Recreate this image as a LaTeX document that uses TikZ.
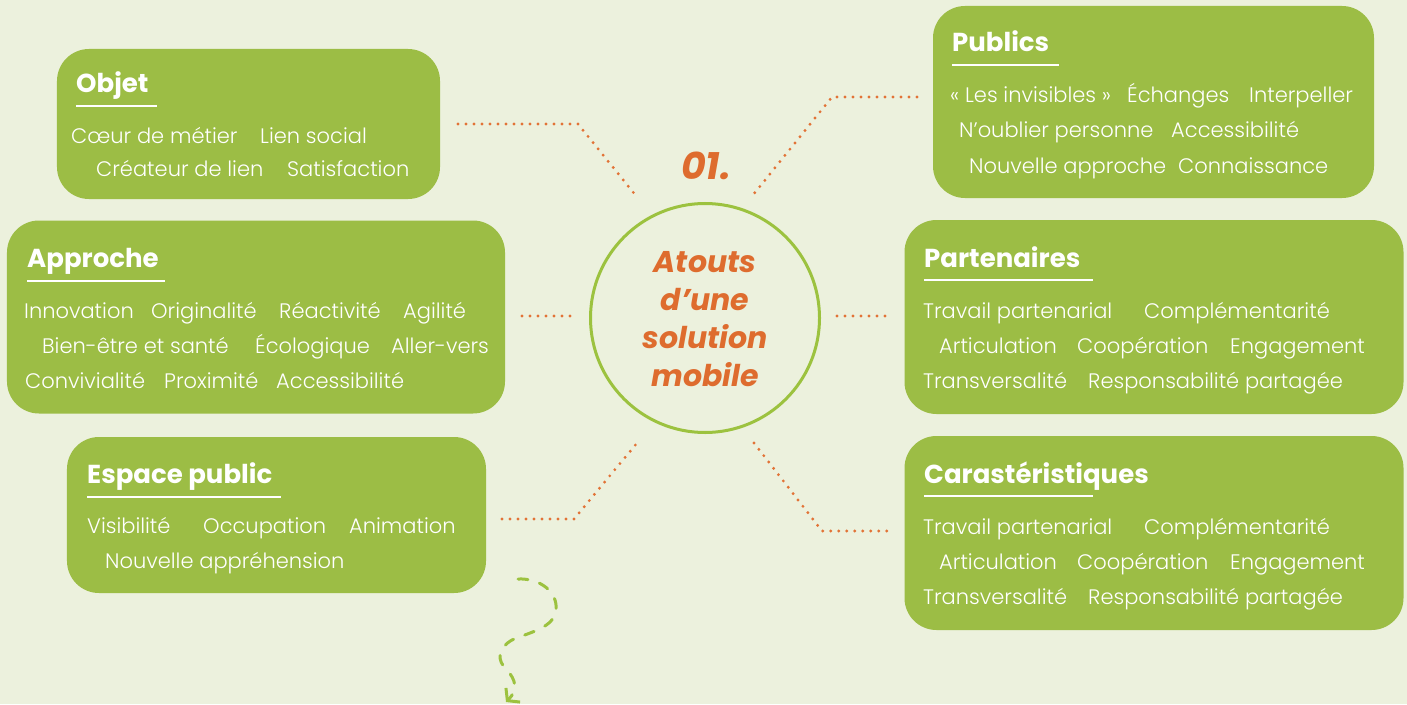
\documentclass[tikz,border=0pt]{standalone}
\usepackage{fontspec}
\setmainfont{Poppins}[UprightFont=* Light, BoldFont=* Bold, BoldItalicFont=* Bold Italic]
\usetikzlibrary{arrows.meta}
\definecolor{fond}{HTML}{ECF1DD}
\definecolor{vertbloc}{HTML}{9CBD45}
\definecolor{vertcercle}{HTML}{9CC23F}
\definecolor{orangetitre}{HTML}{DE6C2E}
\definecolor{orangepoint}{HTML}{E27336}
\tikzset{
  bloc/.style={rectangle, fill=vertbloc, rounded corners=32bp, inner sep=0pt},
  titre/.style={anchor=base west, inner sep=0pt, text=white, font=\fontsize{26bp}{30bp}\selectfont\bfseries},
  mot/.style={anchor=base west, inner sep=0pt, text=white, font=\fontsize{21bp}{25bp}\selectfont},
  souligne/.style={draw=white, line width=2bp},
  pointille/.style={draw=orangepoint, line width=3.2bp, line cap=round, dash pattern=on 0bp off 8bp},
  fleche/.style={draw=vertcercle, line width=3bp, line cap=round, dash pattern=on 10bp off 12bp, -{Straight Barb[length=8bp, width=20bp]}},
  accroche/.style={anchor=base, inner sep=0pt, text=orangetitre, font=\fontsize{30bp}{38bp}\selectfont\bfseries\itshape}
}

\begin{document}
\begin{tikzpicture}[x=1bp, y=-1bp]
  \useasboundingbox (0,0) rectangle (1407,704);
  \fill[fond] (0,0) rectangle (1407,704);

  % Blocs
  \node (objet) at (248.5,124) [bloc, minimum width=383bp, minimum height=150bp] {};
  \node (publics) at (1153.5,102) [bloc, minimum width=441bp, minimum height=192bp] {};
  \node (approche) at (256,317) [bloc, minimum width=498bp, minimum height=193bp] {};
  \node (partenaires) at (1154,317) [bloc, minimum width=499bp, minimum height=194bp] {};
  \node (espace) at (276.5,515) [bloc, minimum width=419bp, minimum height=156bp] {};
  \node (carast) at (1154,533) [bloc, minimum width=499bp, minimum height=194bp] {};

  % Centre
  \node (cercle) at (705,318) [circle, draw=vertcercle, line width=3bp, minimum size=229bp, inner sep=0pt] {};
  \node (numero) at (706,179) [accroche, font=\fontsize{38bp}{44bp}\selectfont\bfseries\itshape] {01.};
  \node (accroche1) at (705,272) [accroche] {Atouts};
  \node (accroche2) at (705,310) [accroche] {d’une};
  \node (accroche3) at (705,348) [accroche] {solution};
  \node (accroche4) at (705,386) [accroche] {mobile};

  % Objet
  \node (objetT) at (76,93) [titre] {Objet};
  \draw[souligne] (objetT.base west) ++(0,13) coordinate (objetS) -- ++(81,0);
  \node (objet1) at (71,143) [mot] {Cœur de métier};
  \node (objet2) at (260,143) [mot] {Lien social};
  \node (objet3) at (96,176) [mot] {Créateur de lien};
  \node (objet4) at (287,176) [mot] {Satisfaction};

  % Publics
  \node (publicsT) at (952,52) [titre] {Publics};
  \draw[souligne] (publicsT.base west) ++(0,13) coordinate (publicsS) -- ++(107,0);
  \node (publics1) at (950,103) [mot] {« Les invisibles »};
  \node (publics2) at (1127,103) [mot] {Échanges};
  \node (publics3) at (1249,103) [mot] {Interpeller};
  \node (publics4) at (959,138) [mot] {N’oublier personne};
  \node (publics5) at (1171,138) [mot] {Accessibilité};
  \node (publics6) at (969,173) [mot] {Nouvelle approche};
  \node (publics7) at (1178,173) [mot] {Connaissance};

  % Approche
  \node (approcheT) at (27,267) [titre] {Approche};
  \draw[souligne] (approcheT.base west) ++(0,14) coordinate (approcheS) -- ++(138,0);
  \node (approche1) at (24,318) [mot] {Innovation};
  \node (approche2) at (151,318) [mot] {Originalité};
  \node (approche3) at (279,318) [mot] {Réactivité};
  \node (approche4) at (403,318) [mot] {Agilité};
  \node (approche5) at (42,353) [mot] {Bien-être et santé};
  \node (approche6) at (255,353) [mot] {Écologique};
  \node (approche7) at (391,353) [mot] {Aller-vers};
  \node (approche8) at (25,388) [mot] {Convivialité};
  \node (approche9) at (164,388) [mot] {Proximité};
  \node (approche10) at (276,388) [mot] {Accessibilité};

  % Partenaires
  \node (partenairesT) at (924,267) [titre] {Partenaires};
  \draw[souligne] (partenairesT.base west) ++(0,13) coordinate (partenairesS) -- ++(169,0);
  \node (partenaires1) at (923,318) [mot] {Travail partenarial};
  \node (partenaires2) at (1144,318) [mot] {Complémentarité};
  \node (partenaires3) at (939,353) [mot] {Articulation};
  \node (partenaires4) at (1077,353) [mot] {Coopération};
  \node (partenaires5) at (1230,353) [mot] {Engagement};
  \node (partenaires6) at (923,388) [mot] {Transversalité};
  \node (partenaires7) at (1088,388) [mot] {Responsabilité partagée};

  % Espace public
  \node (espaceT) at (87,483) [titre] {Espace public};
  \draw[souligne] (espaceT.base west) ++(0,14) coordinate (espaceS) -- ++(194,0);
  \node (espace1) at (87,533) [mot] {Visibilité};
  \node (espace2) at (203,533) [mot] {Occupation};
  \node (espace3) at (349,533) [mot] {Animation};
  \node (espace4) at (105,568) [mot] {Nouvelle appréhension};

  % Carasteristiques
  \node (carastT) at (924,483) [titre] {Carastéristiques};
  \draw[souligne] (carastT.base west) ++(0,13) coordinate (carastS) -- ++(169,0);
  \node (carast1) at (923,534) [mot] {Travail partenarial};
  \node (carast2) at (1144,534) [mot] {Complémentarité};
  \node (carast3) at (939,569) [mot] {Articulation};
  \node (carast4) at (1077,569) [mot] {Coopération};
  \node (carast5) at (1230,569) [mot] {Engagement};
  \node (carast6) at (923,604) [mot] {Transversalité};
  \node (carast7) at (1088,604) [mot] {Responsabilité partagée};

  % Liens pointilles
  \coordinate (lienObjetA) at (458,124);
  \coordinate (lienObjetB) at (578,124);
  \coordinate (lienObjetC) at (637,197);
  \coordinate (lienPublicsA) at (917,97);
  \coordinate (lienPublicsB) at (832,97);
  \coordinate (lienPublicsC) at (753,195);
  \coordinate (lienApprocheA) at (522,316);
  \coordinate (lienApprocheB) at (574,316);
  \coordinate (lienPartenairesA) at (837,316);
  \coordinate (lienPartenairesB) at (889,316);
  \coordinate (lienEspaceA) at (502,519);
  \coordinate (lienEspaceB) at (574,519);
  \coordinate (lienEspaceC) at (637,443);
  \coordinate (lienCarastA) at (754,443);
  \coordinate (lienCarastB) at (822,531);
  \coordinate (lienCarastC) at (890,531);
  \draw[pointille] (lienObjetA) -- (lienObjetB) -- (lienObjetC);
  \draw[pointille] (lienPublicsA) -- (lienPublicsB) -- (lienPublicsC);
  \draw[pointille] (lienApprocheA) -- (lienApprocheB);
  \draw[pointille] (lienPartenairesA) -- (lienPartenairesB);
  \draw[pointille] (lienEspaceA) -- (lienEspaceB) -- (lienEspaceC);
  \draw[pointille] (lienCarastA) -- (lienCarastB) -- (lienCarastC);

  % Fleche
  \coordinate (boucleA) at (518,579);
  \coordinate (boucleB) at (556,610);
  \coordinate (boucleC) at (512,640);
  \coordinate (boucleD) at (507,670);
  \coordinate (boucleE) at (506,702);
  \draw[fleche] (boucleA) .. controls (540,578) and (558,592) .. (boucleB)
    .. controls (554,628) and (530,632) .. (boucleC)
    .. controls (498,648) and (496,660) .. (boucleD)
    .. controls (516,680) and (518,690) .. (boucleE);
\end{tikzpicture}
\end{document}
